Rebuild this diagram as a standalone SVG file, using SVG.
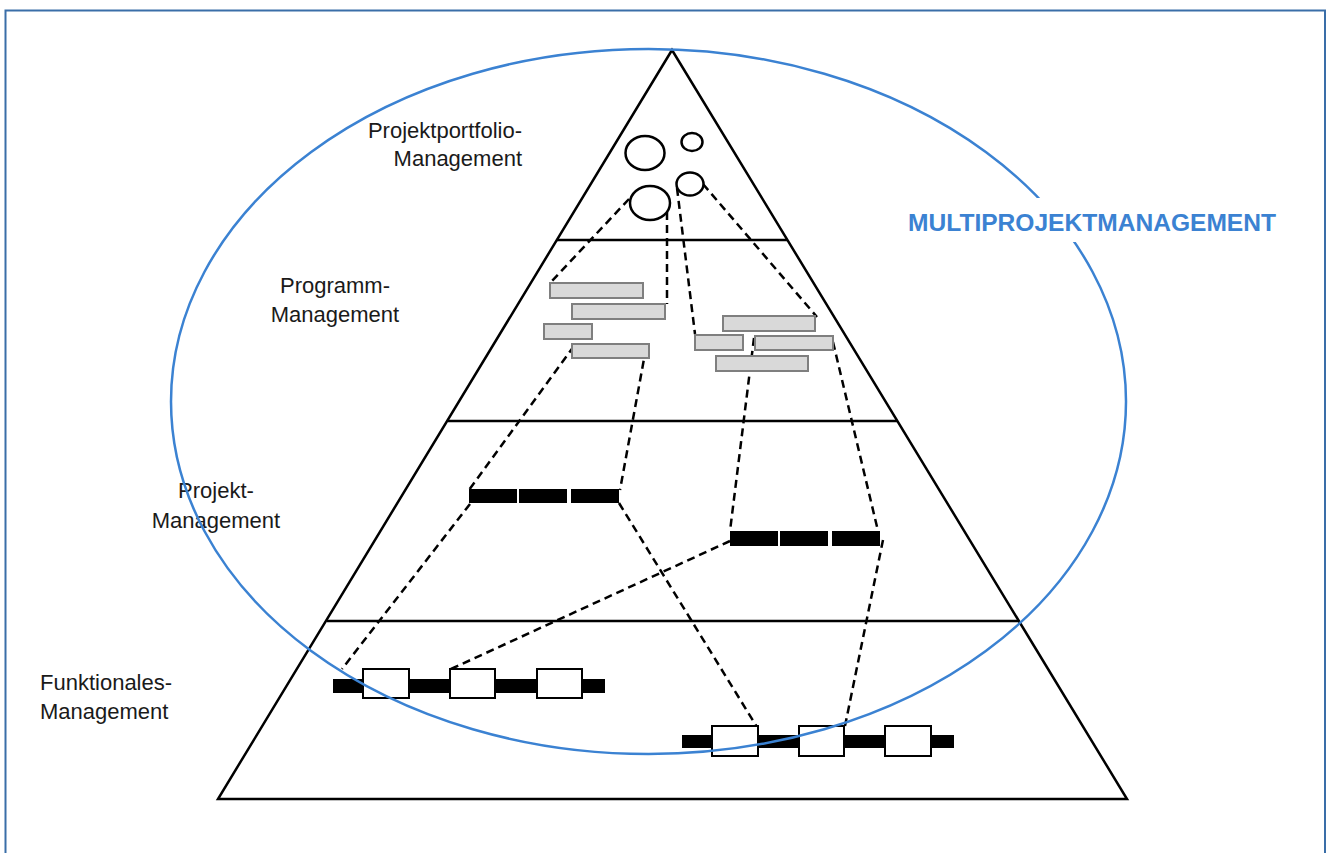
<svg xmlns="http://www.w3.org/2000/svg" width="1326" height="853" viewBox="0 0 1326 853">
<style>
.lbl{font-family:"Liberation Sans",Arial,sans-serif;font-size:22px;fill:#1a1a1a}
.title{font-family:"Liberation Sans",Arial,sans-serif;font-size:24px;font-weight:bold;fill:#3b82d2}
.edge{stroke:#000;stroke-width:2.5;fill:none}
.dash{stroke:#000;stroke-width:2.5;fill:none;stroke-dasharray:8 5}
.circ{stroke:#000;stroke-width:2.5;fill:#fff}
.gray{fill:#d9d9d9;stroke:#7f7f7f;stroke-width:2}
.blk{fill:#000}
.box{fill:#fff;stroke:#000;stroke-width:2}
</style>
<rect x="0" y="0" width="1326" height="853" fill="#fff"/>
<path d="M5.5,853 V10.5 H1325 V853" fill="none" stroke="#3a6ea8" stroke-width="2"/>

<g id="pyramid">
<path class="edge" d="M672,50 L218,799 L1127,799 Z"/>
<line class="edge" x1="557" y1="240" x2="787" y2="240"/>
<line class="edge" x1="448" y1="421" x2="897" y2="421"/>
<line class="edge" x1="327" y1="621" x2="1019" y2="621"/>
</g>

<g id="connectors">
<line class="dash" x1="629" y1="199" x2="551" y2="282"/>
<line class="dash" x1="667" y1="212" x2="667" y2="304"/>
<line class="dash" x1="677" y1="188" x2="695" y2="334"/>
<line class="dash" x1="703" y1="184" x2="817" y2="317"/>
<line class="dash" x1="574" y1="346" x2="469" y2="490"/>
<line class="dash" x1="646" y1="348" x2="620" y2="490"/>
<line class="dash" x1="754" y1="338" x2="730" y2="531"/>
<line class="dash" x1="833" y1="342" x2="878" y2="531"/>
<line class="dash" x1="470" y1="504" x2="342" y2="669"/>
<line class="dash" x1="619" y1="503" x2="757" y2="727"/>
<line class="dash" x1="730" y1="541" x2="451" y2="669"/>
<line class="dash" x1="883" y1="540" x2="845" y2="726"/>
</g>

<g id="portfolio">
<text class="lbl" x="522" y="138" text-anchor="end">Projektportfolio-</text>
<text class="lbl" x="522" y="166" text-anchor="end">Management</text>
<ellipse class="circ" cx="645" cy="153" rx="19.5" ry="17"/>
<ellipse class="circ" cx="692" cy="142" rx="10.5" ry="9"/>
<ellipse class="circ" cx="690" cy="184" rx="13.5" ry="11.5"/>
<ellipse class="circ" cx="650" cy="203" rx="20" ry="17"/>
</g>

<g id="programm">
<text class="lbl" x="335" y="293" text-anchor="middle">Programm-</text>
<text class="lbl" x="335" y="322" text-anchor="middle">Management</text>
<rect class="gray" x="550" y="283" width="93" height="15"/>
<rect class="gray" x="572" y="304" width="93" height="15"/>
<rect class="gray" x="544" y="324" width="48" height="15"/>
<rect class="gray" x="572" y="344" width="77" height="14"/>
<rect class="gray" x="723" y="316" width="92" height="15"/>
<rect class="gray" x="695" y="335" width="48" height="15"/>
<rect class="gray" x="755" y="336" width="78" height="14"/>
<rect class="gray" x="716" y="356" width="92" height="15"/>
</g>

<g id="projekt">
<text class="lbl" x="216" y="498" text-anchor="middle">Projekt-</text>
<text class="lbl" x="216" y="528" text-anchor="middle">Management</text>
<rect class="blk" x="469" y="489" width="48" height="14"/>
<rect class="blk" x="519" y="489" width="48" height="14"/>
<rect class="blk" x="571" y="489" width="48" height="14"/>
<rect class="blk" x="730" y="531" width="48" height="15"/>
<rect class="blk" x="780" y="531" width="48" height="15"/>
<rect class="blk" x="832" y="531" width="48" height="15"/>
</g>

<g id="funktional">
<text class="lbl" x="40" y="690">Funktionales-</text>
<text class="lbl" x="40" y="719">Management</text>
<rect class="blk" x="333" y="679" width="272" height="14"/>
<rect class="box" x="363" y="669" width="46" height="29"/>
<rect class="box" x="450" y="669" width="45" height="29"/>
<rect class="box" x="537" y="669" width="45" height="29"/>
<rect class="blk" x="682" y="735" width="272" height="13"/>
<rect class="box" x="712" y="726" width="46" height="30"/>
<rect class="box" x="799" y="726" width="45" height="30"/>
<rect class="box" x="885" y="726" width="46" height="30"/>
</g>

<g id="multiprojekt">
<ellipse cx="648.5" cy="401.5" rx="477.5" ry="352.5" fill="none" stroke="#3b82d2" stroke-width="2.5"/>
<rect x="905" y="198" width="375" height="44" fill="#fff"/>
<text class="title" x="908" y="231" textLength="368" lengthAdjust="spacingAndGlyphs">MULTIPROJEKTMANAGEMENT</text>
</g>
</svg>
